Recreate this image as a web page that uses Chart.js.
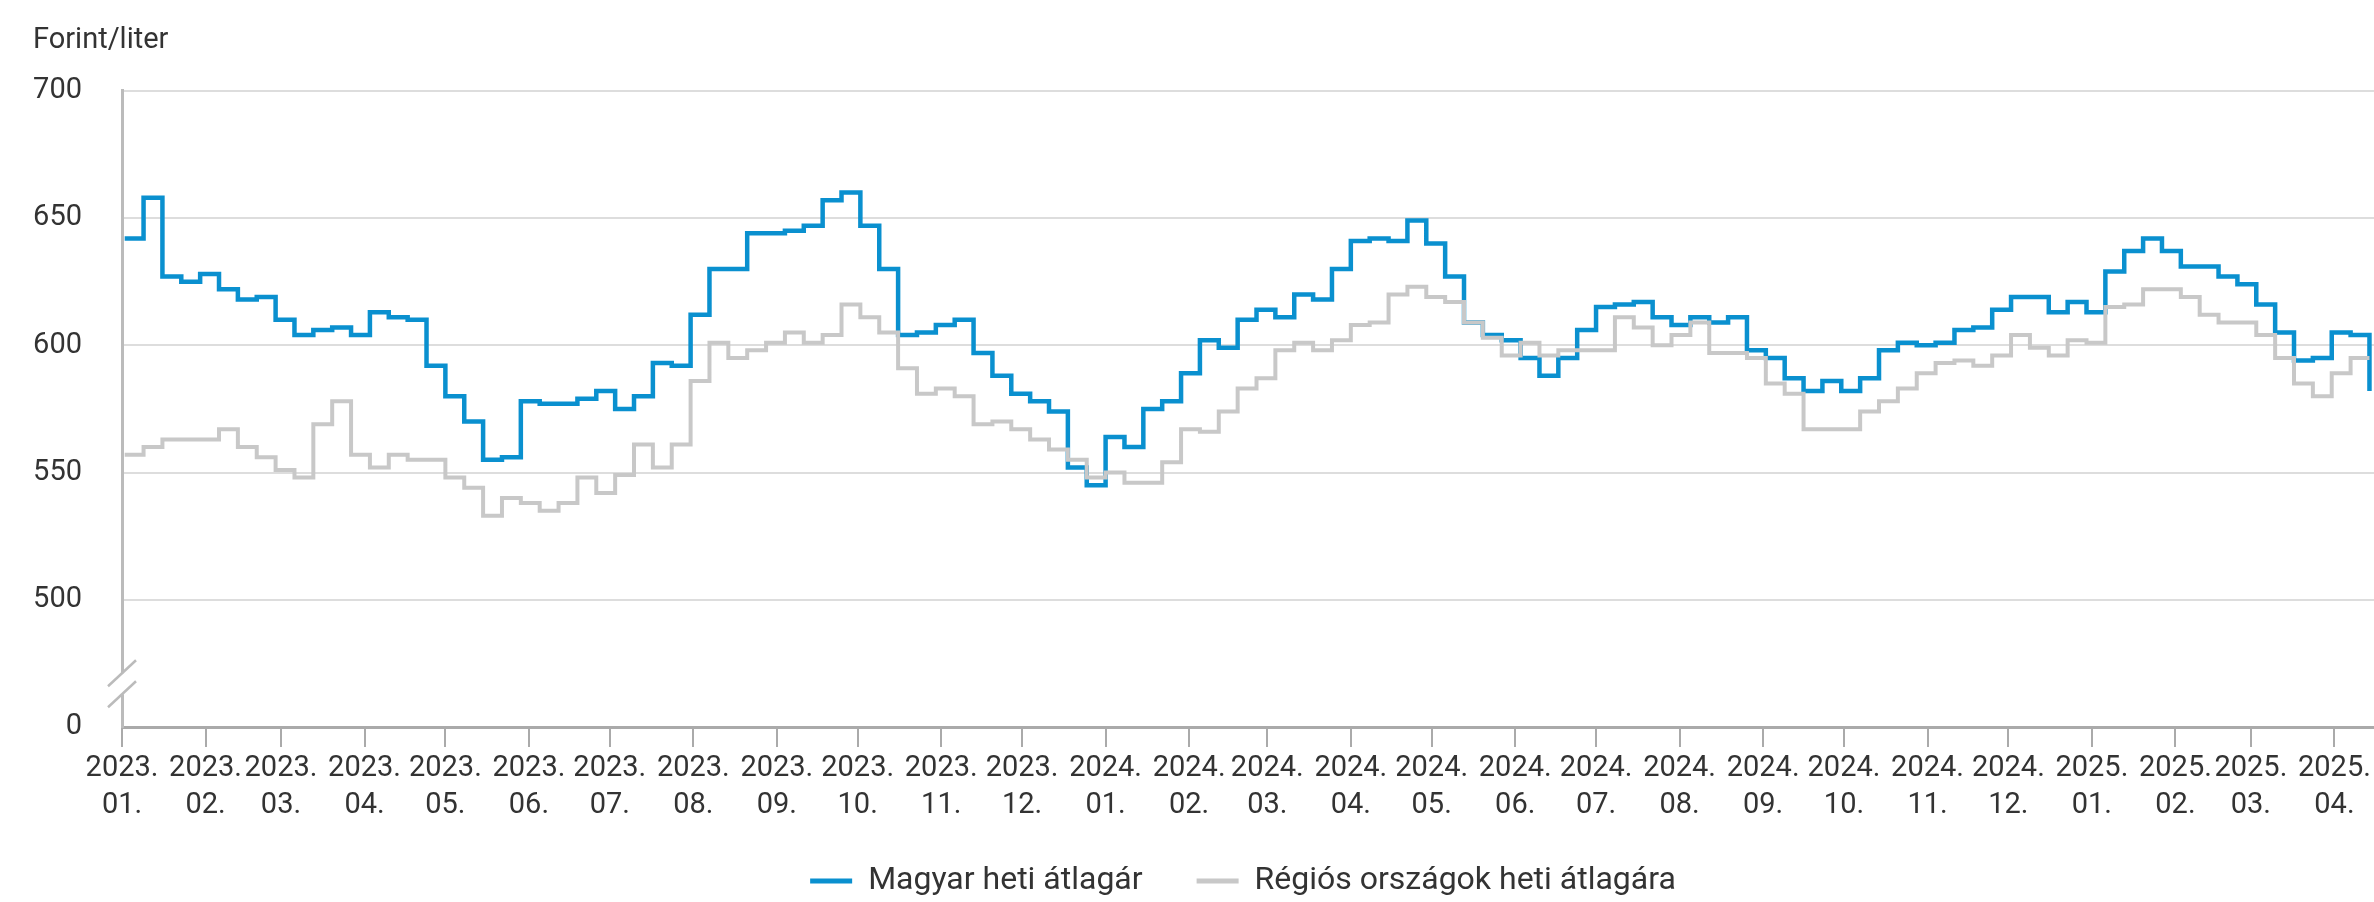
<!DOCTYPE html>
<html>
<head>
<meta charset="utf-8">
<script src="https://cdn.jsdelivr.net/npm/chart.js@4.4.1/dist/chart.umd.min.js"></script>
<style>
  html, body { margin: 0; padding: 0; background: #fff; overflow: hidden; }
  #chart { display: block; }
</style>
</head>
<body>
<canvas id="chart" width="2460" height="902"></canvas>
<script>
// Weekly averages, Forint/liter, one value per week from the first Monday of 2023
const firstWeek = '2023-01-02';
const xRange = ['2023-01-01', '2025-05-15'];

const seriesNames = ['Magyar heti átlagár', 'Régiós országok heti átlagára'];

const magyar = [
  642, 658, 627, 625, 628, 622, 618, 619, 610, 604,
  606, 607, 604, 613, 611, 610, 592, 580, 570, 555,
  556, 578, 577, 577, 579, 582, 575, 580, 593, 592,
  612, 630, 630, 644, 644, 645, 647, 657, 660, 647,
  630, 604, 605, 608, 610, 597, 588, 581, 578, 574,
  552, 545, 564, 560, 575, 578, 589, 602, 599, 610,
  614, 611, 620, 618, 630, 641, 642, 641, 649, 640,
  627, 609, 604, 602, 595, 588, 595, 606, 615, 616,
  617, 611, 608, 611, 609, 611, 598, 595, 587, 582,
  586, 582, 587, 598, 601, 600, 601, 606, 607, 614,
  619, 619, 613, 617, 613, 629, 637, 642, 637, 631,
  631, 627, 624, 616, 605, 594, 595, 605, 604, 582
];

const regios = [
  557, 560, 563, 563, 563, 567, 560, 556, 551, 548,
  569, 578, 557, 552, 557, 555, 555, 548, 544, 533,
  540, 538, 535, 538, 548, 542, 549, 561, 552, 561,
  586, 601, 595, 598, 601, 605, 601, 604, 616, 611,
  605, 591, 581, 583, 580, 569, 570, 567, 563, 559,
  555, 548, 550, 546, 546, 554, 567, 566, 574, 583,
  587, 598, 601, 598, 602, 608, 609, 620, 623, 619,
  617, 609, 603, 596, 601, 596, 598, 598, 598, 611,
  607, 600, 604, 609, 597, 597, 595, 585, 581, 567,
  567, 567, 574, 578, 583, 589, 593, 594, 592, 596,
  604, 599, 596, 602, 601, 615, 616, 622, 622, 619,
  612, 609, 609, 604, 595, 585, 580, 589, 595, 595
];

const monthTicks = [
  '2023. 01.', '2023. 02.', '2023. 03.', '2023. 04.', '2023. 05.', '2023. 06.',
  '2023. 07.', '2023. 08.', '2023. 09.', '2023. 10.', '2023. 11.', '2023. 12.',
  '2024. 01.', '2024. 02.', '2024. 03.', '2024. 04.', '2024. 05.', '2024. 06.',
  '2024. 07.', '2024. 08.', '2024. 09.', '2024. 10.', '2024. 11.', '2024. 12.',
  '2025. 01.', '2025. 02.', '2025. 03.', '2025. 04.', '2025. 05.'
];

// the axis is broken: the bottom tick stands for 0
const yTickValues = [450, 500, 550, 600, 650, 700];
const yTickLabels = ['0', '500', '550', '600', '650', '700'];
const breakValue = 467;

const DAY = 86400000;
const origin = Date.UTC(2023, 0, 1);
function dayOfIso(s) {
  const [y, m, d] = s.split('-').map(Number);
  return (Date.UTC(y, m - 1, d) - origin) / DAY;
}
function dayOfTick(s) {
  const [y, m] = s.replace(/\./g, '').split(' ').map(Number);
  return (Date.UTC(y, m - 1, 1) - origin) / DAY;
}

const start = dayOfIso(firstWeek);
const toPoints = arr => arr.map((v, i) => ({ x: start + 7 * i, y: v }));
const tickDays = monthTicks.map(dayOfTick);

const axisBreak = {
  id: 'axisBreak',
  afterDraw(chart) {
    const ctx = chart.ctx;
    const x0 = chart.chartArea.left;
    const mid = chart.scales.y.getPixelForValue(breakValue);
    const half = 10.5;
    ctx.save();
    ctx.fillStyle = '#fff';
    ctx.fillRect(x0 - 3, mid - half, 6, half * 2);
    ctx.strokeStyle = '#bbb';
    ctx.lineWidth = 2.5;
    [mid - half, mid + half].forEach(c => {
      ctx.beginPath();
      ctx.moveTo(x0 + 14, c - 13);
      ctx.lineTo(x0 - 14, c + 13);
      ctx.stroke();
    });
    ctx.restore();
  }
};

Chart.defaults.font.family = 'Roboto, sans-serif';
Chart.defaults.font.size = 29;
Chart.defaults.color = '#333';

new Chart(document.getElementById('chart'), {
  type: 'line',
  data: {
    datasets: [{
      label: seriesNames[0],
      data: toPoints(magyar),
      borderColor: '#0a90cf',
      backgroundColor: '#0a90cf',
      borderWidth: 4.5,
      stepped: true,
      pointRadius: 0,
      order: 1
    }, {
      label: seriesNames[1],
      data: toPoints(regios),
      borderColor: '#c8c8c8',
      backgroundColor: '#c8c8c8',
      borderWidth: 4,
      stepped: true,
      pointRadius: 0,
      order: 0
    }]
  },
  options: {
    responsive: false,
    devicePixelRatio: 1,
    animation: false,
    events: [],
    layout: { padding: { left: 33, right: 7, top: 0, bottom: -5 } },
    scales: {
      x: {
        type: 'linear',
        min: dayOfIso(xRange[0]),
        max: dayOfIso(xRange[1]),
        afterBuildTicks: scale => { scale.ticks = tickDays.map(v => ({ value: v })); },
        afterFit: scale => {
          // labels may run into the legend's empty top padding
          scale.height = 84;
          scale._computeLabelArea = () => null;
        },
        grid: { drawOnChartArea: false, drawTicks: true, tickLength: 20, color: '#aaa', lineWidth: 2 },
        border: { display: true, color: '#aaa', width: 3 },
        ticks: {
          autoSkip: false,
          maxRotation: 0,
          minRotation: 0,
          padding: 3,
          font: { size: 29, lineHeight: 1.28 },
          callback: value => {
            const i = tickDays.indexOf(value);
            return i >= 0 ? monthTicks[i].split(' ') : '';
          }
        }
      },
      y: {
        min: 450,
        max: 700,
        afterBuildTicks: scale => { scale.ticks = yTickValues.map(v => ({ value: v })); },
        afterFit: scale => { scale.width = 89; },
        grid: { color: '#ddd', lineWidth: 2, drawTicks: false },
        border: { display: true, color: '#bbb', width: 3 },
        ticks: {
          padding: 40,
          callback: value => yTickLabels[yTickValues.indexOf(value)]
        }
      }
    },
    plugins: {
      title: {
        display: true,
        text: 'Forint/liter',
        align: 'start',
        color: '#333',
        font: { size: 29, weight: 'normal' },
        padding: { top: 23, bottom: 33 }
      },
      legend: {
        position: 'bottom',
        labels: {
          boxWidth: 42,
          boxHeight: 5,
          padding: 54,
          color: '#333',
          font: { size: 32 },
          sort: (a, b) => a.datasetIndex - b.datasetIndex,
          generateLabels: chart => Chart.defaults.plugins.legend.labels.generateLabels(chart)
            .map(item => ({ ...item, lineWidth: 0 }))
        }
      },
      tooltip: { enabled: false }
    }
  },
  plugins: [axisBreak]
});
</script>
</body>
</html>
